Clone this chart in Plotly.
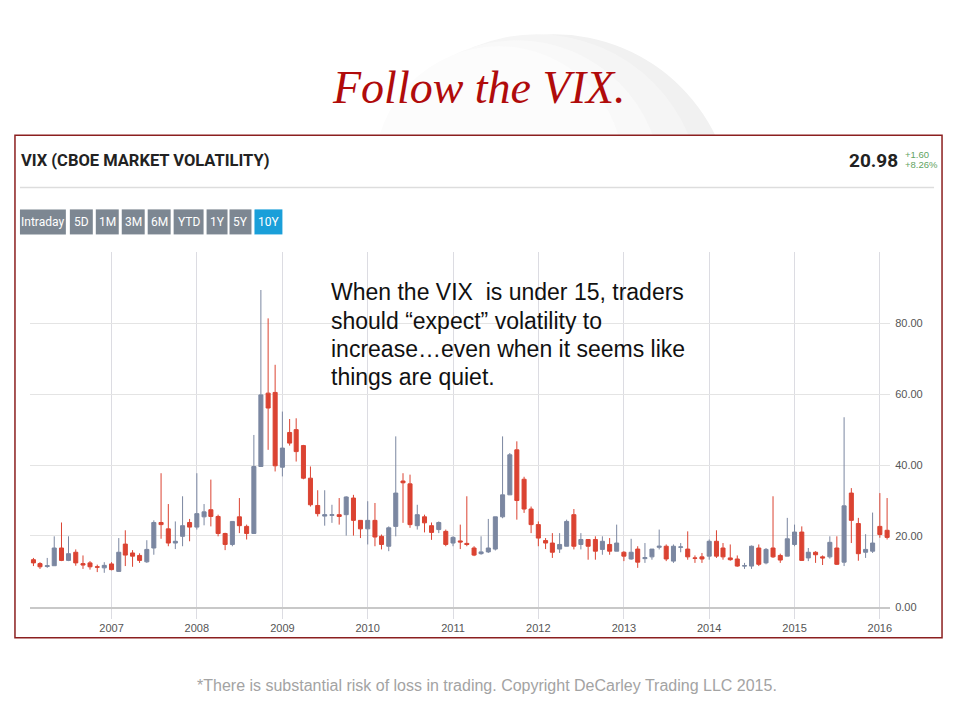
import pandas as pd
import plotly.graph_objects as go

# ---------------- data (monthly VIX candles) ----------------
months = pd.date_range("2006-02-01", periods=121, freq="MS")

open_ = [
    13.3, 12.2, 11.4, 11.6, 16.6, 13.1, 15.4, 12.2, 12.4, 11.3, 11.0,
    12.1, 10.0, 17.7, 15.2, 14.5, 12.7, 16.6, 23.8, 22.0, 18.0, 19.9, 23.8,
    22.5, 25.4, 27.4, 25.5, 20.7, 17.6, 25.4, 22.7, 20.7, 39.6, 60.3, 60.5,
    39.4, 49.2, 50.0, 45.5, 36.3, 28.6, 25.6, 25.8, 26.0, 26.0, 30.7, 24.4,
    22.0, 24.4, 19.9, 17.1, 22.7, 35.5, 34.7, 22.9, 25.4, 22.9, 21.8, 21.3,
    18.0, 18.6, 17.9, 16.6, 15.0, 15.5, 16.3, 25.4, 31.6, 44.3, 36.0, 27.6,
    23.2, 18.7, 18.0, 16.3, 17.1, 26.0, 17.6, 19.0, 19.0, 16.2, 17.6, 15.7,
    15.4, 13.5, 16.3, 13.6, 14.1, 16.8, 17.1, 12.9, 16.8, 16.3, 13.8, 14.1,
    14.3, 18.5, 16.6, 13.8, 13.5, 11.5, 11.5, 16.6, 12.4, 16.6, 14.5, 14.3,
    17.6, 21.1, 13.8, 15.4, 14.1, 14.1, 16.6, 12.6, 32.1, 23.5, 15.4, 15.7,
    22.7, 21.6,
]
high = [
    13.8, 12.6, 13.8, 19.9, 23.8, 19.9, 16.2, 14.5, 12.9, 11.9, 12.6,
    12.6, 19.4, 21.6, 16.0, 15.1, 18.8, 24.4, 37.7, 29.0, 24.1, 31.2, 24.8,
    37.7, 29.0, 35.9, 26.0, 20.9, 24.1, 30.7, 23.2, 48.5, 89.4, 81.4, 68.3,
    55.1, 53.0, 53.2, 45.7, 39.6, 32.9, 32.9, 28.8, 30.7, 31.2, 31.6, 24.4,
    29.8, 29.3, 20.4, 22.7, 48.1, 37.7, 37.3, 28.8, 26.0, 23.8, 24.1, 21.8,
    19.9, 23.2, 31.2, 17.1, 19.9, 24.8, 25.4, 48.1, 43.4, 46.7, 36.7, 28.3,
    24.1, 19.4, 20.8, 20.8, 24.6, 27.6, 20.8, 19.0, 19.9, 19.9, 19.4, 23.2,
    15.7, 19.2, 17.1, 18.0, 16.3, 21.8, 17.6, 17.6, 18.0, 21.3, 14.5, 15.2,
    19.0, 21.6, 18.0, 17.6, 14.5, 12.4, 17.3, 17.6, 16.6, 31.2, 15.0, 25.1,
    23.2, 22.7, 16.6, 15.7, 14.5, 19.9, 19.9, 53.5, 33.5, 25.1, 20.5, 26.6,
    32.1, 30.7,
]
low = [
    11.5, 10.7, 11.0, 11.6, 12.9, 12.9, 11.6, 10.7, 10.5, 9.8, 9.6,
    10.3, 9.9, 11.5, 11.3, 12.4, 12.4, 14.7, 19.2, 17.1, 16.3, 17.1, 18.5,
    21.8, 23.0, 22.7, 19.9, 16.0, 17.1, 20.8, 19.0, 20.7, 39.6, 44.3, 38.2,
    36.8, 45.5, 41.0, 36.0, 28.3, 25.5, 22.9, 23.7, 23.2, 20.1, 20.1, 19.4,
    17.6, 17.1, 16.2, 15.7, 19.9, 23.7, 22.3, 21.8, 21.0, 18.9, 20.8, 17.1,
    17.1, 16.3, 17.1, 14.3, 14.7, 15.2, 15.9, 25.0, 31.6, 24.6, 26.5, 20.8,
    17.1, 16.3, 13.8, 15.2, 17.1, 16.2, 16.2, 13.3, 13.3, 14.7, 14.7, 15.7,
    12.9, 13.3, 11.0, 12.4, 13.3, 16.2, 12.9, 12.4, 15.4, 13.3, 12.4, 12.4,
    13.3, 13.8, 13.3, 13.0, 11.3, 10.7, 10.7, 11.5, 12.0, 13.8, 12.4, 14.3,
    17.1, 13.0, 12.9, 12.4, 11.8, 13.6, 11.8, 11.5, 18.0, 13.0, 13.8, 15.2,
    19.5, 19.0,
]
close = [
    12.4, 11.3, 11.6, 16.6, 13.1, 15.0, 12.4, 11.8, 11.3, 11.2, 11.7,
    10.5, 15.4, 14.6, 14.3, 13.1, 16.2, 23.8, 23.2, 18.0, 18.5, 22.9, 22.5,
    26.3, 26.8, 25.5, 20.7, 17.6, 24.1, 22.9, 20.7, 39.6, 59.8, 56.1, 39.8,
    44.8, 46.2, 43.8, 36.3, 28.8, 26.3, 26.0, 26.0, 25.5, 31.0, 24.4, 22.0,
    24.4, 19.7, 17.6, 22.3, 32.1, 35.0, 23.2, 26.0, 23.7, 21.0, 23.8, 17.6,
    19.6, 18.3, 17.6, 14.6, 15.5, 16.6, 25.4, 31.6, 42.9, 30.0, 27.6, 23.2,
    19.4, 18.0, 15.4, 17.6, 24.1, 17.1, 19.0, 17.1, 15.7, 18.5, 15.7, 18.0,
    14.3, 15.4, 12.6, 13.9, 16.3, 17.1, 13.5, 17.1, 16.9, 14.1, 13.7, 13.5,
    18.5, 14.3, 14.1, 13.3, 11.5, 11.6, 17.1, 12.0, 16.2, 14.1, 13.2, 19.2,
    21.1, 13.1, 15.4, 14.7, 13.8, 18.2, 12.0, 28.5, 24.4, 15.0, 16.2, 18.0,
    20.4, 19.6,
]

y_ticks = [0, 20, 40, 60, 80, 100]
y_tick_labels = ["0.00", "20.00", "40.00", "60.00", "80.00", ""]
buttons = ["Intraday", "5D", "1M", "3M", "6M", "YTD", "1Y", "5Y", "10Y"]
last_price = "20.98"
change_abs = "+1.60"
change_pct = "+8.26%"

# ---------------- helpers (pixel -> paper) ----------------
W, H = 960, 720
def px(x):
    return x / W
def py(y):
    yc = 88 + (y - 88) * 1.0095
    return 1 - yc / H

UP = "#7b87a1"
DOWN = "#db4332"
SANS = "Liberation Sans, Arial, sans-serif"
HEAD = "Roboto, Liberation Sans, Arial, sans-serif"

fig = go.Figure()
fig.add_trace(go.Candlestick(
    x=months, open=open_, high=high, low=low, close=close,
    increasing=dict(line=dict(color=UP, width=1), fillcolor=UP),
    decreasing=dict(line=dict(color=DOWN, width=1), fillcolor=DOWN),
    whiskerwidth=0, showlegend=False, hoverinfo="skip",
))

shapes = []
# faint globe behind the title
for (cx, cy, r, col) in [(555, 215, 180, "#f1f1f1"),
                         (538, 200, 165, "#f5f5f5"),
                         (518, 186, 145, "#f9f9f9"),
                         (500, 172, 125, "#fcfcfc")]:
    shapes.append(dict(type="circle", xref="paper", yref="paper",
                       x0=px(cx - r), x1=px(cx + r), y0=py(cy + r), y1=py(cy - r),
                       fillcolor=col, line=dict(width=0), layer="below"))
# white chart panel with dark red frame
shapes.append(dict(type="rect", xref="paper", yref="paper",
                   x0=px(15), x1=px(944), y0=py(638), y1=py(136),
                   fillcolor="white", line=dict(color="#8b1f1f", width=1.5), layer="below"))
# separator under the header
shapes.append(dict(type="line", xref="paper", yref="paper",
                   x0=px(20), x1=px(936), y0=py(188), y1=py(188),
                   line=dict(color="#dddddd", width=1.5), layer="below"))

annotations = []
# buttons
btn_x = [(20, 66), (70, 93), (96, 119), (122, 145), (148, 171),
         (174, 204), (207, 228), (230, 252), (255, 283)]
for lab, (a, b) in zip(buttons, btn_x):
    col = "#1a9fd9" if lab == "10Y" else "#7d8792"
    shapes.append(dict(type="rect", xref="paper", yref="paper",
                       x0=px(a), x1=px(b), y0=py(235), y1=py(210),
                       fillcolor=col, line=dict(width=0), layer="below"))
    annotations.append(dict(text=lab, x=px((a + b) / 2), y=py(222.5), xref="paper", yref="paper",
                            showarrow=False, xanchor="center", yanchor="middle",
                            font=dict(family=HEAD, size=12, color="white")))

# title
annotations.append(dict(text="Follow the VIX.", x=px(480), y=py(88), xref="paper", yref="paper",
                        showarrow=False, xanchor="center", yanchor="middle",
                        font=dict(family="Liberation Serif, DejaVu Serif, serif", size=46,
                                  color="#b00b0b", style="italic")))
# chart header
annotations.append(dict(text="<b>VIX (CBOE MARKET VOLATILITY)</b>", x=px(19), y=py(161), xref="paper", yref="paper",
                        showarrow=False, xanchor="left", yanchor="middle",
                        font=dict(family=HEAD, size=16.5, color="#222222")))
annotations.append(dict(text="<b>" + last_price + "</b>", x=px(902), y=py(161), xref="paper", yref="paper",
                        showarrow=False, xanchor="right", yanchor="middle",
                        font=dict(family=HEAD, size=19, color="#222222")))
annotations.append(dict(text=change_abs, x=px(905), y=py(155), xref="paper", yref="paper",
                        showarrow=False, xanchor="left", yanchor="middle",
                        font=dict(family=SANS, size=9.5, color="#5fa35f")))
annotations.append(dict(text=change_pct, x=px(905), y=py(165), xref="paper", yref="paper",
                        showarrow=False, xanchor="left", yanchor="middle",
                        font=dict(family=SANS, size=9.5, color="#5fa35f")))

# commentary text
lines = ["When the VIX  is under 15, traders",
         "should \u201cexpect\u201d volatility to",
         "increase\u2026even when it seems like",
         "things are quiet."]
for i, ln in enumerate(lines):
    annotations.append(dict(text=ln, x=px(330), y=py(293 + 28.2 * i), xref="paper", yref="paper",
                            showarrow=False, xanchor="left", yanchor="middle",
                            font=dict(family=SANS, size=23, color="#111111")))

# footer
annotations.append(dict(text="*There is substantial risk of loss in trading. Copyright DeCarley Trading LLC 2015.",
                        x=px(488), y=py(686), xref="paper", yref="paper",
                        showarrow=False, xanchor="center", yanchor="middle",
                        font=dict(family=SANS, size=16, color="#a3a3a3")))

fig.update_layout(
    width=W, height=H,
    margin=dict(l=0, r=0, t=0, b=0),
    paper_bgcolor="white",
    plot_bgcolor="rgba(0,0,0,0)",
    boxgap=0.12,
    shapes=shapes,
    annotations=annotations,
    showlegend=False,
    xaxis=dict(
        domain=[px(30), px(892)],
        type="date",
        range=["2006-01-17", "2016-02-14"],
        rangeslider=dict(visible=False),
        tick0="2007-01-01", dtick="M12", tickformat="%Y",
        showgrid=True, gridcolor="#dcdce2", gridwidth=1,
        ticks="outside", ticklen=10, tickcolor="#dcdce2",
        showline=True, linecolor="#c8c8c8", linewidth=2,
        zeroline=False,
        tickfont=dict(family=SANS, size=11, color="#555555"),
        fixedrange=True,
    ),
    yaxis=dict(
        domain=[py(607), py(253)],
        range=[0, 100],
        side="right",
        tickvals=y_ticks, ticktext=y_tick_labels,
        showgrid=True, gridcolor="#e4e4e4", gridwidth=1,
        zeroline=False, showline=False, ticks="",
        ticklabelstandoff=4,
        tickfont=dict(family=SANS, size=11, color="#555555"),
        fixedrange=True,
    ),
)

fig.write_html("out.html", config={"displayModeBar": False},
               post_script="document.body.style.margin='0';document.body.style.overflow='hidden';")
